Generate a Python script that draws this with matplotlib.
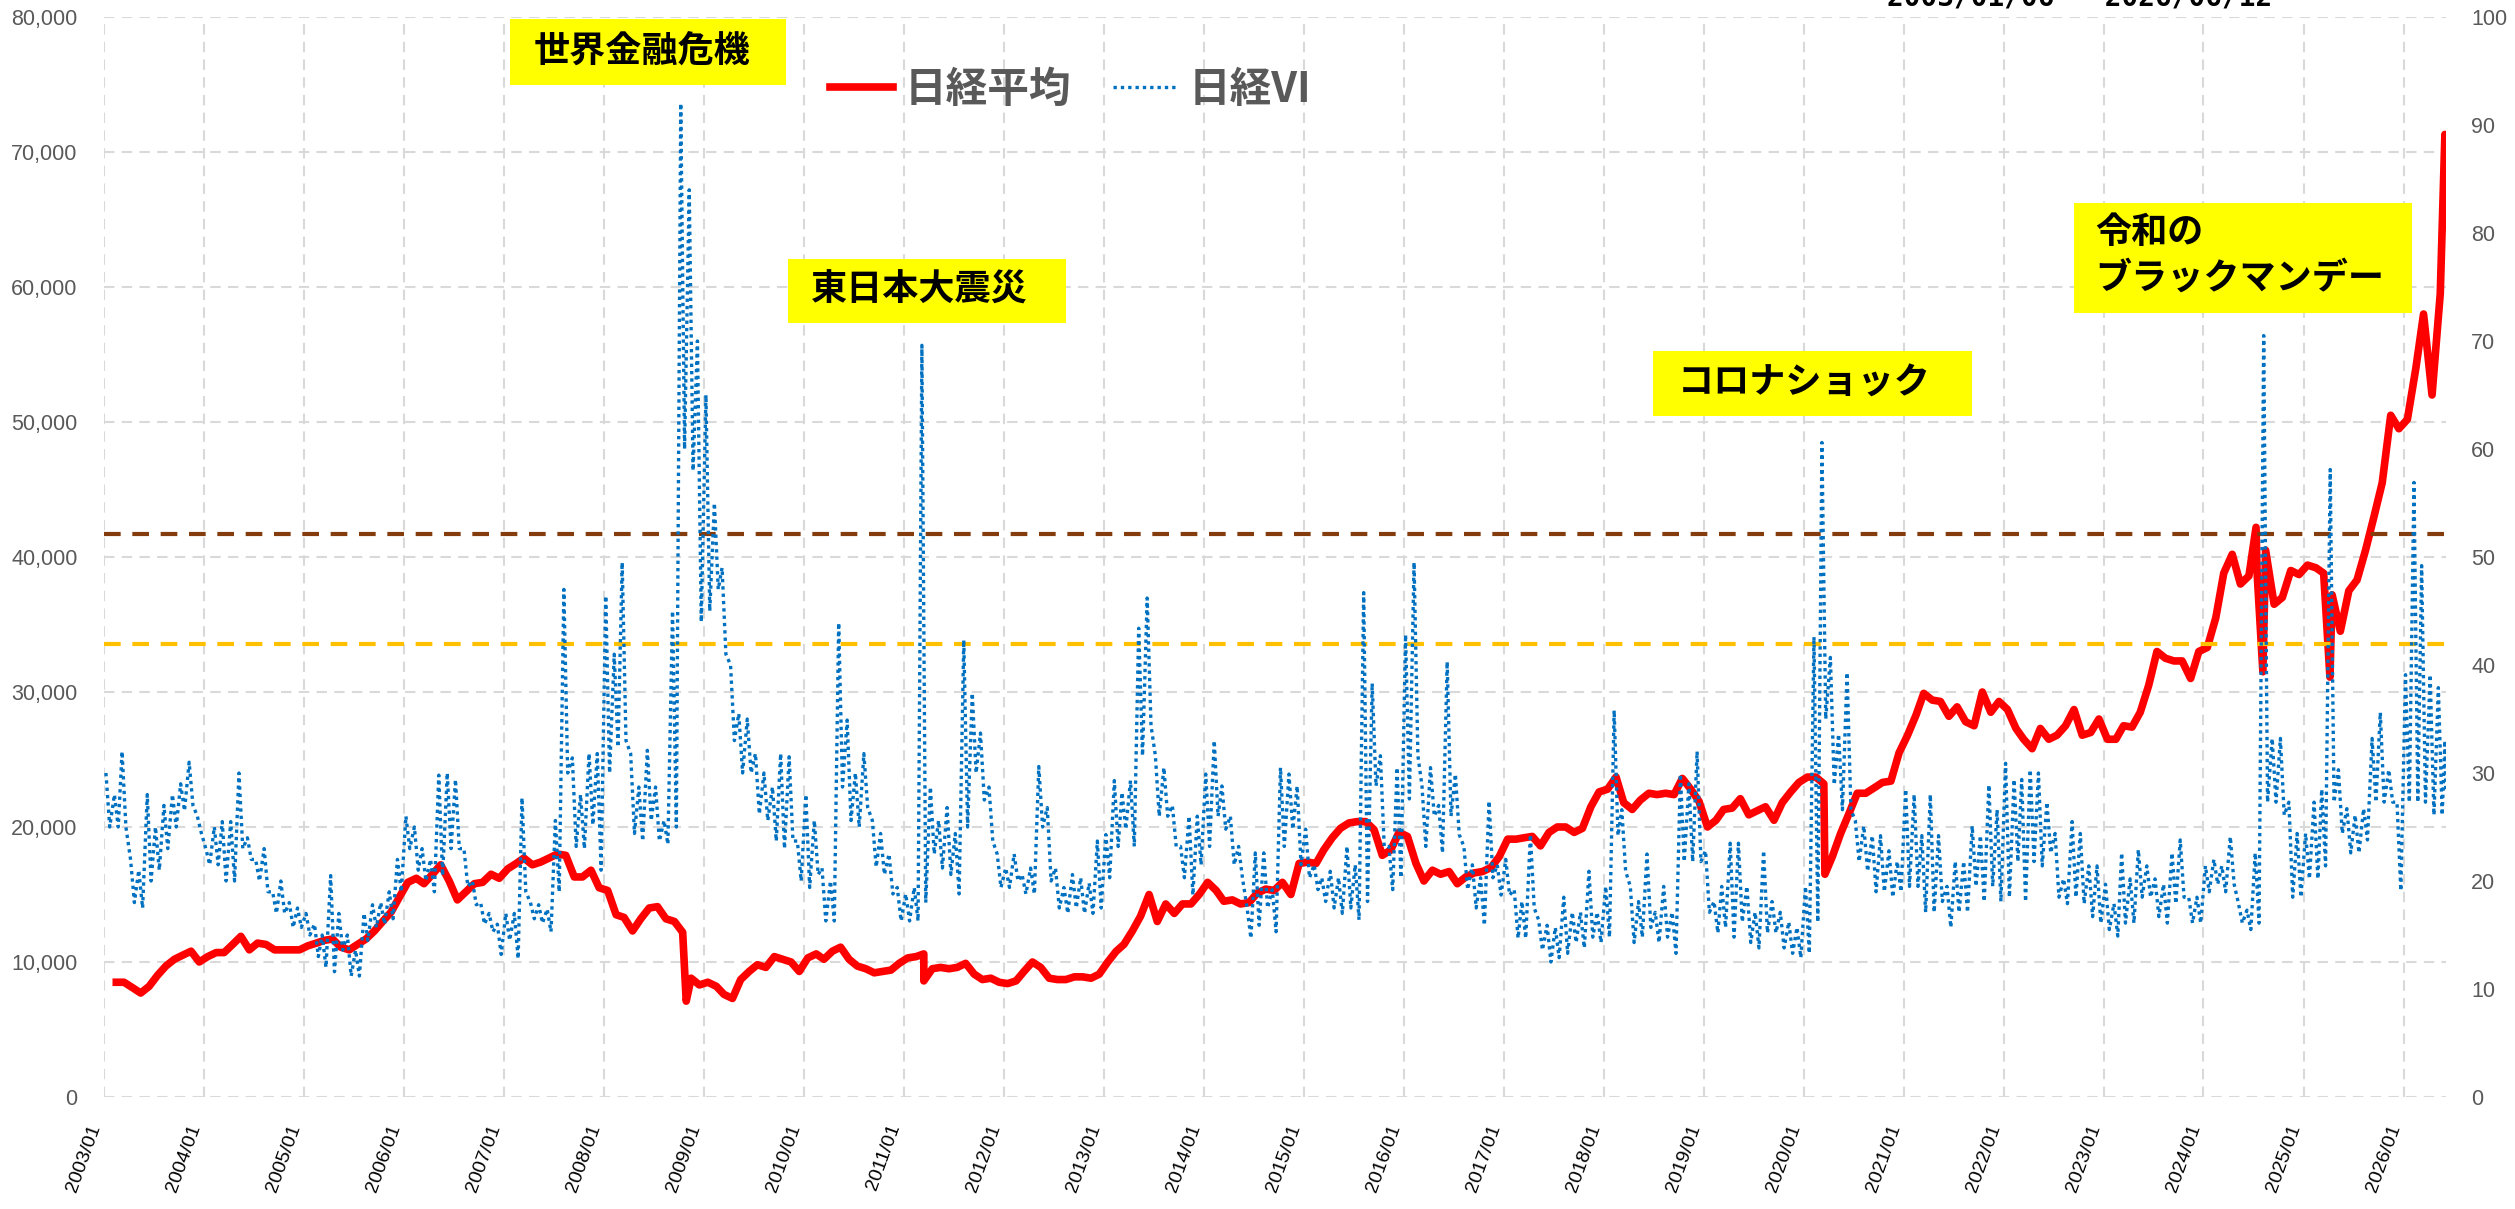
import matplotlib
matplotlib.use('Agg')
import matplotlib.pyplot as plt
from matplotlib.patches import Rectangle
from matplotlib.ticker import FuncFormatter, MultipleLocator
import pandas as pd

plt.rcParams['font.family'] = ['Liberation Sans', 'Noto Sans CJK JP', 'DejaVu Sans']
JP = ['Noto Sans CJK JP', 'DejaVu Sans']

# 日経平均 (月中の値) 2003/01 - 2026/05
nikkei = [
    8500, 8500, 8100, 7700, 8200, 9000, 9700, 10200, 10500, 10800, 10000, 10400,          # 2003
    10700, 10700, 11300, 11900, 10900, 11400, 11300, 10900, 10900, 10900, 10900, 11200,   # 2004
    11400, 11600, 11700, 11100, 10900, 11300, 11700, 12300, 13000, 13700, 14800, 15900,   # 2005
    16200, 15800, 16500, 17200, 16000, 14600, 15200, 15800, 15900, 16500, 16200, 16900,   # 2006
    17300, 17700, 17200, 17400, 17700, 18000, 17900, 16300, 16300, 16800, 15500, 15300,   # 2007
    13500, 13300, 12300, 13200, 14000, 14100, 13200, 13000, 12200, 8800, 8300, 8500,      # 2008
    8200, 7600, 7300, 8700, 9300, 9800, 9600, 10400, 10200, 10000, 9300, 10300,           # 2009
    10600, 10200, 10800, 11100, 10200, 9700, 9500, 9200, 9300, 9400, 9900, 10300,         # 2010
    10400, 10600, 9500, 9600, 9500, 9600, 9900, 9100, 8700, 8800, 8500, 8400,             # 2011
    8600, 9300, 10000, 9600, 8800, 8700, 8700, 8900, 8900, 8800, 9100, 10000,             # 2012
    10800, 11300, 12300, 13400, 15000, 13000, 14300, 13600, 14300, 14300, 15000, 15900,   # 2013
    15300, 14500, 14600, 14300, 14400, 15100, 15400, 15300, 15900, 15000, 17300, 17400,   # 2014
    17300, 18300, 19200, 19900, 20300, 20400, 20400, 19800, 17900, 18300, 19600, 19300,   # 2015
    17300, 16000, 16800, 16500, 16700, 15800, 16300, 16600, 16700, 17000, 17800, 19100,   # 2016
    19100, 19200, 19300, 18600, 19600, 20000, 20000, 19600, 19900, 21500, 22600, 22800,   # 2017
    23700, 21800, 21300, 22000, 22500, 22400, 22500, 22400, 23600, 22800, 21900, 20000,   # 2018
    20500, 21300, 21400, 22100, 20900, 21200, 21500, 20500, 21800, 22600, 23300, 23700,   # 2019
    23700, 23200, 17800, 19500, 21000, 22500, 22500, 22900, 23300, 23400, 25500, 26800,   # 2020
    28300, 29900, 29400, 29300, 28200, 28900, 27800, 27500, 30000, 28500, 29300, 28700,   # 2021
    27300, 26500, 25800, 27300, 26500, 26800, 27500, 28700, 26800, 27000, 28000, 26500,   # 2022
    26500, 27500, 27400, 28500, 30500, 33000, 32500, 32300, 32300, 31000, 33000, 33300,   # 2023
    35500, 38800, 40200, 38000, 38600, 38800, 40500, 36500, 37000, 39000, 38700, 39400,   # 2024
    39200, 38800, 37200, 34500, 37500, 38300, 40500, 43000, 45500, 50500, 49500, 50200,   # 2025
    54000, 58000, 52000, 59500, 66000,                                                    # 2026
]
# 急変した日
nikkei_ev_dates = ['2008-10-28', '2011-03-15', '2020-03-19', '2024-07-11',
                   '2024-08-05', '2025-04-07', '2026-06-01', '2026-06-04']
nikkei_ev_vals = [7100, 8600, 16500, 42200, 31500, 31100, 71300, 65500]

# 日経VI 月ごとの高値/安値 2003/01 - 2026/06
vi_hi = [
    30, 28, 32, 22, 21, 28, 25, 27, 28, 29, 31, 26,                          # 2003
    23, 25, 25.5, 25.5, 30, 24, 22, 23, 19, 20, 18, 17.5,                    # 2004
    17, 16, 15, 20.5, 17, 15, 13.6, 17, 17.8, 18, 19, 22,                    # 2005
    26, 25, 23, 22, 29.8, 30, 29.4, 23, 20, 18, 17, 16,                      # 2006
    17, 17, 27.7, 18, 17.8, 17.4, 25.6, 47, 31.4, 28, 31.8, 31.8,            # 2007
    46.4, 41, 49.5, 31.8, 28.7, 32.1, 28.7, 25.6, 45, 92, 84, 70,            # 2008
    65, 55, 49, 40, 35.5, 35, 31.8, 30, 28.7, 31.8, 31.5, 23.7,              # 2009
    28, 25.6, 21.2, 20, 43.9, 34.9, 30, 31.8, 25.6, 24.4, 22.5, 19.4,        # 2010
    18.8, 19.4, 69.6, 28.7, 25.6, 26.8, 24.4, 42.3, 37.4, 33.7, 28.7, 22.5,  # 2011
    21.2, 22.5, 20.6, 21.2, 30.6, 26.8, 21.2, 19.4, 20.6, 20.3, 19.8, 23.7,  # 2012
    24.3, 29.3, 28.2, 29.3, 43.4, 46.2, 31.6, 30.5, 27, 23.2, 26, 26,        # 2013
    29.9, 33, 28.8, 26, 23.2, 17.5, 22.6, 22.6, 19.2, 30.5, 29.9, 28.8,      # 2014
    24.8, 21.5, 20.3, 20.9, 20.3, 23.2, 21.5, 46.7, 38.3, 31.6, 23.2, 30.5,  # 2015
    42.8, 49.5, 28.8, 30.5, 27, 40.3, 29.9, 23.2, 21.5, 20.3, 27.4, 21.5,    # 2016
    22, 19.2, 18.1, 24.3, 16.4, 15.9, 15.7, 18.5, 17.1, 17.1, 20.9, 17.1,    # 2017
    19.5, 35.8, 26.6, 19.5, 18.1, 22.5, 17.1, 19.5, 17.1, 29.9, 29, 32,      # 2018
    22.8, 18.1, 19.5, 23.5, 23.5, 19.5, 17.1, 22.8, 18.1, 17.1, 16.2, 15.7,  # 2019
    19.5, 42.6, 60.6, 40.7, 33.6, 39.3, 25.6, 25.1, 24.2, 24.2, 22.8, 21.8,  # 2020
    28.5, 28, 24.2, 28, 24.2, 19.5, 21.8, 21.8, 25.1, 24.2, 28.9, 26.6,      # 2021
    30.9, 29.4, 29.4, 30.3, 30, 27.3, 24.4, 20.2, 25.5, 24.4, 21.4, 21.4,    # 2022
    19.7, 17.9, 22.6, 20.2, 22.9, 21.4, 20.2, 19.7, 22.6, 23.8, 18.5, 18.5,  # 2023
    21.4, 22, 21.4, 24.1, 17.9, 17.3, 22.6, 70.5, 33.2, 33.2, 27.3, 24.4,    # 2024
    24.4, 27.3, 28.5, 58.1, 30.3, 26.7, 26.1, 26.7, 33.2, 35.6, 30.3, 27.3,  # 2025
    39.1, 56.9, 49.2, 39.1, 37.9, 33,                                        # 2026
]
vi_lo = [
    25, 25, 25, 18, 17.5, 20, 21, 23, 25, 26.5, 27, 24.5,                    # 2003
    21.5, 21.5, 20, 20, 23, 22, 20, 19, 17, 17, 15.7, 15.7,                  # 2004
    15, 13, 12, 11.6, 13.6, 11.2, 11.2, 14.5, 15.7, 16, 16.5, 19,            # 2005
    23, 21, 20, 19, 20.5, 23, 23, 19.5, 17.8, 16, 15.3, 13.2,                # 2006
    14.5, 12.8, 19, 16.5, 16.1, 15.3, 19, 30, 23.2, 23, 25.2, 21,            # 2007
    30, 32.4, 33, 24.4, 23.7, 25.6, 23.7, 23.4, 25, 60, 58, 44,              # 2008
    45, 47, 41, 33, 30, 30, 26.2, 25.6, 23.7, 23, 23.7, 20,                  # 2009
    19.4, 20.6, 16.3, 16.3, 28.7, 25.6, 25, 26.8, 21.3, 20.6, 18.8, 16.3,    # 2010
    16.3, 16.3, 18, 22.5, 21.2, 20.6, 18.8, 25, 30, 27.5, 23.7, 19.4,        # 2011
    19.4, 20, 18.8, 18.8, 25, 20, 17.5, 17, 17.5, 17, 17, 17.5,              # 2012
    20.3, 23.2, 24.8, 23.2, 31.6, 34.4, 26, 26, 23.2, 20.3, 18.7, 21.5,      # 2013
    23.2, 26, 24.8, 21.5, 20.3, 14.7, 15.9, 17.5, 15.3, 23.2, 24.8, 21.5,    # 2014
    20.3, 19.2, 18.1, 17.5, 17, 17.5, 16.4, 18.1, 28.8, 23.2, 19.2, 20.3,    # 2015
    27.6, 31.6, 23.2, 26, 22.6, 26, 24.3, 19.2, 17.5, 15.9, 20.3, 18.7,      # 2016
    18.7, 14.7, 14.7, 17.5, 13.6, 12.5, 12.9, 13.3, 14.3, 13.8, 14.8, 14.3,  # 2017
    14.8, 24.2, 20.9, 14.3, 14.8, 15.7, 14.3, 14.8, 13.3, 21.8, 21.8, 21.8,  # 2018
    17.1, 15.2, 15.7, 14.8, 16.2, 14.3, 13.8, 15.2, 15.2, 13.8, 13.3, 12.9,  # 2019
    13.3, 16.2, 35, 28.9, 26.6, 26.6, 21.8, 20.9, 19, 19, 18.5, 19,          # 2020
    19.5, 19.5, 17.1, 17.1, 18.1, 15.7, 17.1, 17.1, 19.5, 18.1, 19.5, 18.1,  # 2021
    18.5, 21.8, 18.1, 21.8, 21.4, 22.6, 18.5, 17.9, 18.5, 17.9, 16.7, 16.1,  # 2022
    15.5, 14.9, 16.1, 16.1, 18.5, 18.5, 16.7, 16.1, 17.9, 18.5, 16.1, 16.1,  # 2023
    19, 19.7, 19, 19.7, 16.1, 15.5, 16.1, 27.3, 27.3, 26.1, 18.5, 18.5,      # 2024
    20.2, 20.2, 21.4, 27.3, 24.4, 22.6, 22.6, 23.8, 27.3, 27.3, 27.3, 19.1,  # 2025
    27.3, 27.3, 27.3, 26.1, 26.1, 28.5,                                      # 2026
]
vi_lines = [52.1, 41.9]  # 点線の基準線 (VI軸)

W, H = 2515, 1209

# --- series ---
nk = pd.DataFrame({
    'date': list(pd.date_range('2003-01-15', periods=len(nikkei), freq='MS') + pd.Timedelta(days=14))
            + list(pd.to_datetime(nikkei_ev_dates)),
    'val': nikkei + nikkei_ev_vals,
}).sort_values('date')

vi_d, vi_v = [], []
months = pd.date_range('2003-01-01', periods=len(vi_hi), freq='MS')
for i, m in enumerate(months):
    days = (0, 3) if i == len(months) - 1 else (7, 21)
    vi_d += [m + pd.Timedelta(days=days[0]), m + pd.Timedelta(days=days[1])]
    vi_v += [vi_hi[i], vi_lo[i]]

fig = plt.figure(figsize=(W / 100, H / 100), dpi=100)
ax = fig.add_axes([104 / W, 1 - 1097 / H, 2342 / W, 1080 / H])
ax2 = ax.twinx()

l1, = ax.plot(nk['date'], nk['val'], color='#FF0000', lw=5.5, solid_joinstyle='round', zorder=3)
for v, c in zip(vi_lines, ['#843C0C', '#FFC000']):
    ax2.axhline(v, color=c, lw=3, ls=(0, (4, 2.8)), zorder=2)
l2, = ax2.plot(vi_d, vi_v, color='#0070C0', lw=2.4, ls=(0, (1, 1.2)), zorder=3)

ax.set_xlim(pd.Timestamp('2003-01-01'), pd.Timestamp('2026-06-05'))
ax.set_ylim(0, 80000)
ax2.set_ylim(0, 100)
ax.yaxis.set_major_locator(MultipleLocator(10000))
ax.yaxis.set_major_formatter(FuncFormatter(lambda v, p: f'{int(v):,}'))
ax2.yaxis.set_major_locator(MultipleLocator(10))

years = pd.date_range('2003-01-01', '2026-01-01', freq='YS')
ax.set_xticks(years)
ax.set_xticklabels([d.strftime('%Y/%m') for d in years], rotation=70, ha='right')

ax.grid(True, color='#D9D9D9', lw=1.5, ls=(0, (5, 3.5)))
ax.set_axisbelow(True)
for a in (ax, ax2):
    for s in a.spines.values():
        s.set_visible(False)
ax.tick_params(axis='y', length=0, pad=19, labelsize=15.5, labelcolor='#595959')
ax2.tick_params(axis='y', length=0, pad=18, labelsize=15.5, labelcolor='#595959')
ax.tick_params(axis='x', length=0, pad=18, labelsize=14, labelcolor='black')

leg = fig.legend(handles=[l1, l2], labels=['日経平均', '日経VI'], loc='center left',
                 bbox_to_anchor=(830 / W, 1 - 90 / H), ncol=2, frameon=False,
                 prop={'family': JP, 'size': 30, 'weight': 'bold'},
                 handlelength=1.5, handletextpad=0.3, columnspacing=1.0,
                 borderpad=0, borderaxespad=0)
for t in leg.get_texts():
    t.set_color('#595959')


def note(box, lines, tx, tys):
    x0, y0, x1, y1 = box
    fig.add_artist(Rectangle((x0 / W, 1 - y1 / H), (x1 - x0) / W, (y1 - y0) / H,
                             transform=fig.transFigure, facecolor='#FFFF00',
                             edgecolor='none', zorder=5))
    for s, ty in zip(lines, tys):
        fig.text(tx / W, 1 - ty / H, s, ha='left', va='center', fontsize=26,
                 fontweight='bold', family=JP, color='black', zorder=6)


note((510, 19, 786, 85), ['世界金融危機'], 534, [52])
note((788, 259, 1066, 323), ['東日本大震災'], 811, [290])
note((1653, 351, 1972, 416), ['コロナショック'], 1678, [383])
note((2074, 203, 2412, 313), ['令和の', 'ブラックマンデー'], 2095, [233, 278])

fig.text(1887 / W, 1 - 6 / H, '2003/01/06 ~ 2026/06/12', fontsize=20, fontweight='bold',
         family='DejaVu Sans Mono', va='baseline', ha='left')

fig.savefig('out.png', dpi=100, facecolor='white')
